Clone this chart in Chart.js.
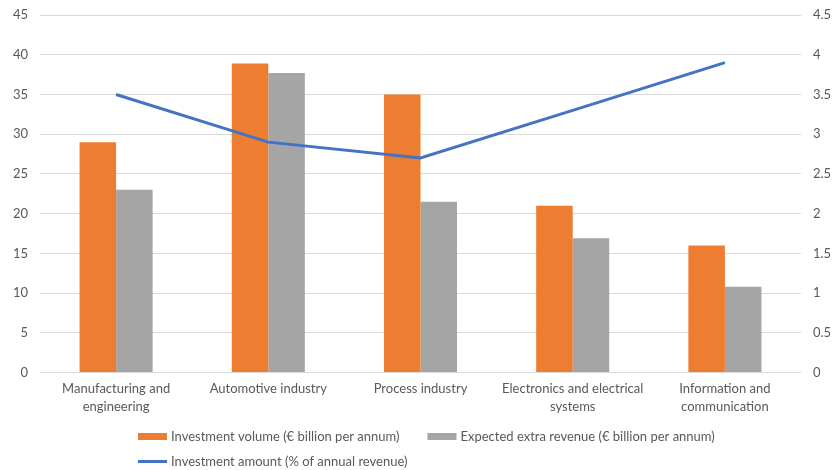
<!DOCTYPE html>
<html><head><meta charset="utf-8">
<script src="https://cdn.jsdelivr.net/npm/chart.js@4.4.1/dist/chart.umd.min.js"></script>
<style>html,body{margin:0;padding:0;background:#fff}#wrap{width:832px;height:470px;position:relative}</style>
</head><body><div id="wrap"><canvas id="c" width="832" height="470"></canvas></div>
<script>
const categories = [['Manufacturing and','engineering'],['Automotive industry'],['Process industry'],['Electronics and electrical','systems'],['Information and','communication']];
const seriesLabels = ['Investment volume (€ billion per annum)','Expected extra revenue (€ billion per annum)','Investment amount (% of annual revenue)'];
const investmentVolume = [29, 38.9, 35, 21, 16];
const extraRevenue = [23, 37.7, 21.5, 16.9, 10.8];
const investmentShare = [3.5, 2.9, 2.7, 3.3, 3.9];
const leftAxisMax = 45, leftAxisStep = 5;
const rightAxisMax = 4.5, rightAxisStep = 0.5;

const FONT = 'Lato, "Liberation Sans", sans-serif';
const FS = 13;
const TXT = '#595959';
const COLORS = ['#ED7D31','#A5A5A5','#4472C4'];

const customLegend = {
  id: 'customLegend',
  afterDraw(chart) {
    const ctx = chart.ctx;
    ctx.save();
    ctx.font = FS + 'px ' + FONT;
    ctx.fillStyle = TXT;
    ctx.textBaseline = 'middle';
    ctx.textAlign = 'left';
    const ds = chart.data.datasets;
    let x = 138, y = 436.5;
    [0,1].forEach(i => {
      ctx.fillStyle = ds[i].backgroundColor;
      ctx.fillRect(x, y - 3.5, 29, 7);
      ctx.fillStyle = TXT;
      ctx.fillText(ds[i].label, x + 33, y);
      x = x + 33 + ctx.measureText(ds[i].label).width + 28;
    });
    x = 138; y = 461.5;
    ctx.strokeStyle = ds[2].borderColor;
    ctx.lineWidth = 3;
    ctx.beginPath(); ctx.moveTo(x, y); ctx.lineTo(x + 29, y); ctx.stroke();
    ctx.fillStyle = TXT;
    ctx.fillText(ds[2].label, x + 33, y);
    ctx.restore();
  }
};

new Chart(document.getElementById('c'), {
  data: {
    labels: categories,
    datasets: [
      { type: 'bar', label: seriesLabels[0], data: investmentVolume, backgroundColor: COLORS[0], borderWidth: 0, yAxisID: 'y', order: 2, categoryPercentage: 0.48, barPercentage: 1 },
      { type: 'bar', label: seriesLabels[1], data: extraRevenue, backgroundColor: COLORS[1], borderWidth: 0, yAxisID: 'y', order: 2, categoryPercentage: 0.48, barPercentage: 1 },
      { type: 'line', label: seriesLabels[2], data: investmentShare, borderColor: COLORS[2], backgroundColor: COLORS[2], borderWidth: 3, pointRadius: 0, tension: 0, yAxisID: 'y1', order: 1 }
    ]
  },
  options: {
    responsive: false,
    animation: false,
    layout: { padding: { top: 0, left: 0, right: 0, bottom: 47 } },
    plugins: { legend: { display: false }, tooltip: { enabled: false } },
    scales: {
      x: {
        grid: { display: false, drawTicks: false },
        border: { display: false },
        ticks: { color: TXT, font: { family: FONT, size: FS, lineHeight: 1.4 }, padding: 7, maxRotation: 0, autoSkip: false }
      },
      y: {
        position: 'left', min: 0, max: leftAxisMax,
        ticks: { stepSize: leftAxisStep, color: TXT, font: { family: FONT, size: FS }, padding: 12 },
        grid: { color: '#D9D9D9', lineWidth: 1, drawTicks: false },
        border: { display: false },
        afterFit(s) { s.width = 40; s.paddingTop = 15; }
      },
      y1: {
        position: 'right', min: 0, max: rightAxisMax,
        ticks: { stepSize: rightAxisStep, color: TXT, font: { family: FONT, size: FS }, padding: 12, callback: v => String(+v.toFixed(1)) },
        grid: { display: false, drawTicks: false },
        border: { display: false },
        afterFit(s) { s.width = 31; s.paddingTop = 15; }
      }
    }
  },
  plugins: [customLegend]
});
</script>
</body></html>
